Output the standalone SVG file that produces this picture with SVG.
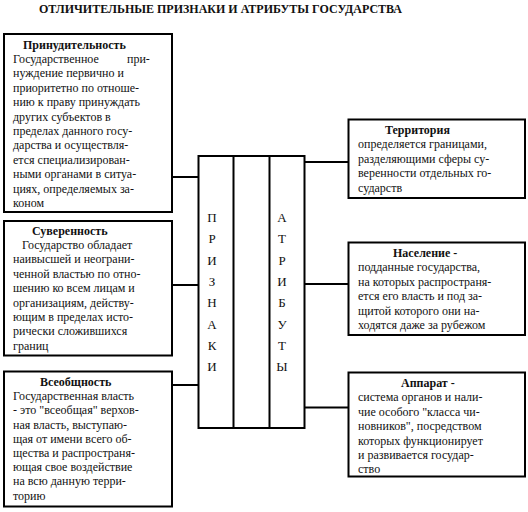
<svg xmlns="http://www.w3.org/2000/svg" width="528" height="512" viewBox="0 0 528 512" font-family="Liberation Serif, Times New Roman, serif">
<style>
.box{fill:#fff;stroke:#000;stroke-width:2}
.ln{stroke:#000;stroke-width:2;fill:none}
.t{font-family:'Liberation Serif','Times New Roman',serif;font-size:12px;fill:#111}
.h{font-family:'Liberation Serif','Times New Roman',serif;font-size:12px;font-weight:bold;fill:#111}
.v{font-family:'Liberation Serif','Times New Roman',serif;font-size:13px;text-anchor:middle;fill:#111}
.ttl{font-family:'Liberation Serif','Times New Roman',serif;font-size:11.5px;font-weight:bold;fill:#111}
</style>
<rect width="528" height="512" fill="#fff"/>
<text class="ttl" x="39" y="13" textLength="363" lengthAdjust="spacingAndGlyphs">ОТЛИЧИТЕЛЬНЫЕ ПРИЗНАКИ И АТРИБУТЫ ГОСУДАРСТВА</text>

<g id="connectors">
<line class="ln" x1="172" y1="177" x2="198" y2="177"/>
<line class="ln" x1="172" y1="285" x2="198" y2="285"/>
<line class="ln" x1="172" y1="385" x2="198" y2="385"/>
<line class="ln" x1="304" y1="162" x2="349" y2="162"/>
<line class="ln" x1="304" y1="284" x2="349" y2="284"/>
<line class="ln" x1="304" y1="407.5" x2="349" y2="407.5"/>
</g>

<g id="center">
<rect class="box" x="198.5" y="156" width="106" height="272"/>
<line class="ln" x1="233.5" y1="156" x2="233.5" y2="428"/>
<line class="ln" x1="269.5" y1="156" x2="269.5" y2="428"/>
<text class="v" x="212"><tspan x="212" y="222">П</tspan><tspan x="212" y="243.3">Р</tspan><tspan x="212" y="264.6">И</tspan><tspan x="212" y="285.9">З</tspan><tspan x="212" y="307.2">Н</tspan><tspan x="212" y="328.5">А</tspan><tspan x="212" y="349.8">К</tspan><tspan x="212" y="371.1">И</tspan></text>
<text class="v" x="282"><tspan x="282" y="222">А</tspan><tspan x="282" y="243.3">Т</tspan><tspan x="282" y="264.6">Р</tspan><tspan x="282" y="285.9">И</tspan><tspan x="282" y="307.2">Б</tspan><tspan x="282" y="328.5">У</tspan><tspan x="282" y="349.8">Т</tspan><tspan x="282" y="371.1">Ы</tspan></text>
</g>

<g id="node-prinuditelnost">
<rect class="box" x="4" y="34" width="168" height="178"/>
<text class="h" x="23" y="48.5">Принудительность</text>
<text class="t" x="13">
<tspan x="13" y="63">Государственное</tspan><tspan x="127" y="63">при-</tspan>
<tspan x="13" y="77.4">нуждение первично и</tspan>
<tspan x="13" y="91.8">приоритетно по отноше-</tspan>
<tspan x="13" y="106.2">нию к праву принуждать</tspan>
<tspan x="13" y="120.6">других субъектов в</tspan>
<tspan x="13" y="135">пределах данного госу-</tspan>
<tspan x="13" y="149.4">дарства  и осуществля-</tspan>
<tspan x="13" y="163.8">ется специализирован-</tspan>
<tspan x="13" y="178.2">ными органами в ситуа-</tspan>
<tspan x="13" y="192.6">циях, определяемых за-</tspan>
<tspan x="13" y="207">коном</tspan>
</text>
</g>

<g id="node-suverennost">
<rect class="box" x="4" y="221" width="168" height="134.5"/>
<text class="h" x="32" y="234.5">Суверенность</text>
<text class="t" x="13">
<tspan x="22" y="248.9">Государство обладает</tspan>
<tspan x="13" y="263.3">наивысшей и неограни-</tspan>
<tspan x="13" y="277.7">ченной властью по отно-</tspan>
<tspan x="13" y="292.1">шению ко всем лицам и</tspan>
<tspan x="13" y="306.5">организациям, действу-</tspan>
<tspan x="13" y="320.9">ющим в пределах исто-</tspan>
<tspan x="13" y="335.3">рически сложившихся</tspan>
<tspan x="13" y="349.7">границ</tspan>
</text>
</g>

<g id="node-vseobshchnost">
<rect class="box" x="4" y="371.5" width="168" height="135"/>
<text class="h" x="40" y="386">Всеобщность</text>
<text class="t" x="13">
<tspan x="13" y="400.2">Государственная власть</tspan>
<tspan x="13" y="414.4">- это "всеобщая" верхов-</tspan>
<tspan x="13" y="428.6">ная власть, выступаю-</tspan>
<tspan x="13" y="442.8">щая от имени всего об-</tspan>
<tspan x="13" y="457">щества и распространя-</tspan>
<tspan x="13" y="471.2">ющая свое воздействие</tspan>
<tspan x="13" y="485.4">на всю данную терри-</tspan>
<tspan x="13" y="499.6">торию</tspan>
</text>
</g>

<g id="node-territoriya">
<rect class="box" x="348.5" y="119.5" width="176.5" height="78.5"/>
<text class="h" x="385" y="134">Территория</text>
<text class="t" x="358">
<tspan x="358" y="148.4">определяется границами,</tspan>
<tspan x="358" y="162.8">разделяющими сферы су-</tspan>
<tspan x="358" y="177.2">веренности отдельных го-</tspan>
<tspan x="358" y="191.6">сударств</tspan>
</text>
</g>

<g id="node-naselenie">
<rect class="box" x="348.5" y="242.5" width="176.5" height="92.5"/>
<text class="h" x="393" y="257">Население -</text>
<text class="t" x="358">
<tspan x="358" y="271.4">подданные государства,</tspan>
<tspan x="358" y="285.8">на которых распространя-</tspan>
<tspan x="358" y="300.2">ется его власть и под за-</tspan>
<tspan x="358" y="314.6">щитой которого они на-</tspan>
<tspan x="358" y="329">ходятся даже за рубежом</tspan>
</text>
</g>

<g id="node-apparat">
<rect class="box" x="348.5" y="372.5" width="176.5" height="104"/>
<text class="h" x="401" y="387">Аппарат -</text>
<text class="t" x="358">
<tspan x="358" y="401.4">система органов и нали-</tspan>
<tspan x="358" y="415.8">чие особого "класса чи-</tspan>
<tspan x="358" y="430.2">новников", посредством</tspan>
<tspan x="358" y="444.6">которых функционирует</tspan>
<tspan x="358" y="459">и развивается государ-</tspan>
<tspan x="358" y="473.4">ство</tspan>
</text>
</g>
</svg>
